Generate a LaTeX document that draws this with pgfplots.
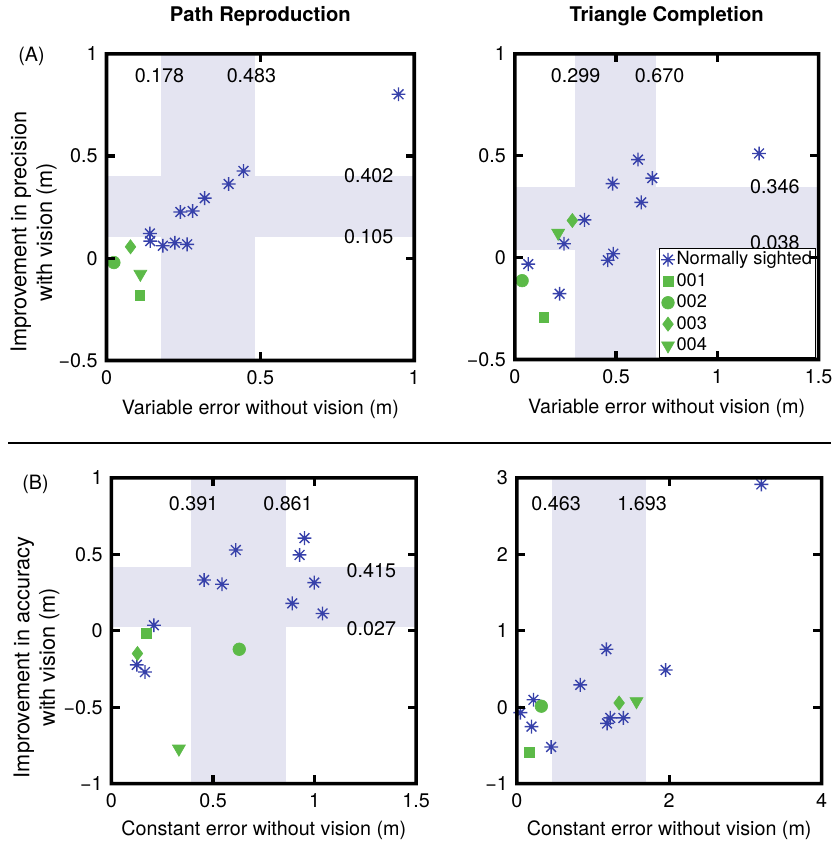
\documentclass[border=0pt]{standalone}
\usepackage{fontspec}
\setmainfont{TeX Gyre Heros}
\usepackage{pgfplots}
\pgfplotsset{compat=1.18}
\usetikzlibrary{calc}

\definecolor{sblue}{RGB}{55,65,170}
\definecolor{sgreen}{RGB}{92,186,72}
\definecolor{band}{RGB}{228,228,241}

% matlab-like '*' marker: a plus and a cross on top of each other
\pgfdeclareplotmark{mstar}{%
  \pgfpathmoveto{\pgfqpoint{-\pgfplotmarksize}{0pt}}%
  \pgfpathlineto{\pgfqpoint{\pgfplotmarksize}{0pt}}%
  \pgfpathmoveto{\pgfqpoint{0pt}{-\pgfplotmarksize}}%
  \pgfpathlineto{\pgfqpoint{0pt}{\pgfplotmarksize}}%
  \pgfpathmoveto{\pgfqpoint{-0.707\pgfplotmarksize}{-0.707\pgfplotmarksize}}%
  \pgfpathlineto{\pgfqpoint{0.707\pgfplotmarksize}{0.707\pgfplotmarksize}}%
  \pgfpathmoveto{\pgfqpoint{-0.707\pgfplotmarksize}{0.707\pgfplotmarksize}}%
  \pgfpathlineto{\pgfqpoint{0.707\pgfplotmarksize}{-0.707\pgfplotmarksize}}%
  \pgfusepathqstroke}

\tikzset{lbl/.style={font=\fontsize{10}{13}\selectfont}}

% thick matlab frame and inward ticks, drawn from the axis anchors
\newcommand{\mframe}[1]{%
  \fill[black, even odd rule]
    ([shift={(-0.9pt,-0.9pt)}]#1.south west) rectangle ([shift={(0.9pt,0.9pt)}]#1.north east)
    ([shift={(0.9pt,0.9pt)}]#1.south west) rectangle ([shift={(-0.9pt,-0.9pt)}]#1.north east);}
\newcommand{\mxtick}[2]{%
  \fill[black] ($(#1.south west)!#2!(#1.south east)$) ++(-0.85pt,0pt) rectangle ++(1.7pt,4.3pt);
  \fill[black] ($(#1.north west)!#2!(#1.north east)$) ++(-0.85pt,0pt) rectangle ++(1.7pt,-4.3pt);}
\newcommand{\mytick}[2]{%
  \fill[black] ($(#1.south west)!#2!(#1.north west)$) ++(0pt,-0.85pt) rectangle ++(4.3pt,1.7pt);
  \fill[black] ($(#1.south east)!#2!(#1.north east)$) ++(0pt,-0.85pt) rectangle ++(-4.3pt,1.7pt);}

\pgfplotsset{
  panel/.style={
    scale only axis, anchor=north west,
    font=\fontsize{10}{13}\selectfont,
    major tick length=0pt,
    xticklabel shift=1.5pt, yticklabel shift=1pt,
    title style={at={(0.5,1)}, anchor=center, yshift=13pt, font=\fontsize{10.25}{13}\selectfont\bfseries},
    xlabel style={at={(axis description cs:0.5,0)}, anchor=center},
    ylabel style={anchor=center, align=center, font=\fontsize{11}{13}\selectfont},
    clip=false,
  },
  nstar/.style={only marks, mark=mstar, mark size=3.5pt, color=sblue, mark options={line width=0.7pt}},
  g1/.style={only marks, mark=square*, mark size=2.5pt, color=sgreen, mark options={line width=0.3pt}},
  g2/.style={only marks, mark=*, mark size=3.2pt, color=sgreen, mark options={line width=0.3pt}},
  g3/.style={only marks, mark=diamond*, mark size=3.6pt, color=sgreen, mark options={line width=0.3pt}},
  g4/.style={only marks, mark=triangle*, mark size=3.8pt, color=sgreen, mark options={rotate=180, line width=0.3pt}},
  bandfill/.style={fill=band, draw=none, forget plot},
}

\begin{document}
\begin{tikzpicture}
\path (0,0) rectangle (421.5pt,-423pt);

% (A) Path Reproduction
\begin{axis}[panel, name=a1, at={(54pt,-21.5pt)}, width=156pt, height=155.5pt,
  title={Path Reproduction},
  xmin=0, xmax=1, ymin=-0.5, ymax=1,
  xtick={0,0.5,1}, xticklabels={0,0.5,1},
  ytick={-0.5,0,0.5,1}, yticklabels={−0.5,0,0.5,1},
  xlabel={Variable error without vision (m)},
  xlabel style={yshift=-25pt},
  ylabel={Improvement in precision\\with vision (m)},
  ylabel style={at={(axis description cs:-0.237,0.418)}},
]
\addplot[bandfill] coordinates {(0.178,-0.5) (0.483,-0.5) (0.483,1) (0.178,1)} -- cycle;
\addplot[bandfill] coordinates {(0,0.105) (1,0.105) (1,0.402) (0,0.402)} -- cycle;
\addplot[nstar] coordinates {
  (0.949,0.802) (0.445,0.427) (0.397,0.363) (0.319,0.294) (0.280,0.231)
  (0.240,0.226) (0.141,0.121) (0.142,0.084) (0.183,0.061) (0.222,0.076) (0.262,0.068)
};
\addplot[g1] coordinates {(0.108,-0.181)};
\addplot[g2] coordinates {(0.024,-0.021)};
\addplot[g3] coordinates {(0.078,0.056)};
\addplot[g4] coordinates {(0.110,-0.077)};
\node[lbl] at (axis cs:0.172,0.895) {0.178};
\node[lbl] at (axis cs:0.471,0.895) {0.483};
\node[lbl, anchor=east] at (axis cs:0.955,0.402) {0.402};
\node[lbl, anchor=east] at (axis cs:0.955,0.105) {0.105};
\end{axis}

% (A) Triangle Completion
\begin{axis}[panel, name=a2, at={(261pt,-21.5pt)}, width=154pt, height=155pt,
  title={Triangle Completion},
  xmin=0, xmax=1.5, ymin=-0.5, ymax=1,
  xtick={0,0.5,1,1.5}, xticklabels={0,0.5,1,1.5},
  ytick={-0.5,0,0.5,1}, yticklabels={−0.5,0,0.5,1},
  xlabel={Variable error without vision (m)},
  xlabel style={yshift=-25pt},
  legend style={at={(axis description cs:1,0)}, anchor=south east,
    xshift=-1.3pt, yshift=1pt, draw=black, line width=0.5pt,
    inner sep=1pt, row sep=1.2pt, font=\fontsize{9.25}{11}\selectfont,
    nodes={inner sep=0.8pt}},
  legend cell align=left,
  legend image code/.code={\draw[#1] plot coordinates {(0.16cm,0cm)};},
]
\addplot[bandfill] coordinates {(0.295,-0.5) (0.695,-0.5) (0.695,1) (0.295,1)} -- cycle;
\addplot[bandfill] coordinates {(0,0.038) (1.5,0.038) (1.5,0.346) (0,0.346)} -- cycle;
\addplot[nstar] coordinates {
  (1.206,0.511) (0.608,0.481) (0.679,0.390) (0.483,0.363) (0.624,0.271)
  (0.344,0.185) (0.243,0.068) (0.486,0.019) (0.459,-0.013) (0.066,-0.032) (0.221,-0.177)
};
\addlegendentry{Normally sighted}
\addplot[g1] coordinates {(0.143,-0.294)};
\addlegendentry{001}
\addplot[g2] coordinates {(0.036,-0.113)};
\addlegendentry{002}
\addplot[g3] coordinates {(0.284,0.182)};
\addlegendentry{003}
\addplot[g4] coordinates {(0.214,0.121)};
\addlegendentry{004}
\node[lbl] at (axis cs:0.300,0.895) {0.299};
\node[lbl] at (axis cs:0.715,0.895) {0.670};
\node[lbl, anchor=east] at (axis cs:1.44,0.346) {0.346};
\node[lbl, anchor=east] at (axis cs:1.44,0.075) {0.038};
\end{axis}

% (B) Path Reproduction
\begin{axis}[panel, name=b1, at={(56.5pt,-236.5pt)}, width=154.5pt, height=155pt,
  xmin=0, xmax=1.5, ymin=-1, ymax=1,
  xtick={0,0.5,1,1.5}, xticklabels={0,0.5,1,1.5},
  ytick={-1,-0.5,0,0.5,1}, yticklabels={−1,−0.5,0,0.5,1},
  xlabel={Constant error without vision (m)},
  xlabel style={yshift=-23.5pt},
  ylabel={Improvement in accuracy\\with vision (m)},
  ylabel style={at={(axis description cs:-0.246,0.413)}},
]
\addplot[bandfill] coordinates {(0.391,-1) (0.861,-1) (0.861,1) (0.391,1)} -- cycle;
\addplot[bandfill] coordinates {(0,0.027) (1.5,0.027) (1.5,0.415) (0,0.415)} -- cycle;
\addplot[nstar] coordinates {
  (0.950,0.606) (0.612,0.528) (0.926,0.496) (0.456,0.332) (0.544,0.304) (0.998,0.315)
  (0.890,0.179) (1.039,0.113) (0.209,0.036) (0.125,-0.223) (0.165,-0.270)
};
\addplot[g1] coordinates {(0.173,-0.017)};
\addplot[g2] coordinates {(0.629,-0.121)};
\addplot[g3] coordinates {(0.128,-0.149)};
\addplot[g4] coordinates {(0.332,-0.772)};
\node[lbl] at (axis cs:0.404,0.834) {0.391};
\node[lbl] at (axis cs:0.869,0.834) {0.861};
\node[lbl, anchor=east] at (axis cs:1.435,0.394) {0.415};
\node[lbl, anchor=east] at (axis cs:1.435,0.011) {0.027};
\end{axis}

% (B) Triangle Completion
\begin{axis}[panel, name=b2, at={(262pt,-236.5pt)}, width=154.5pt, height=155pt,
  xmin=0, xmax=4, ymin=-1, ymax=3,
  xtick={0,2,4}, xticklabels={0,2,4},
  ytick={-1,0,1,2,3}, yticklabels={−1,0,1,2,3},
  xlabel={Constant error without vision (m)},
  xlabel style={yshift=-23.5pt},
]
\addplot[bandfill] coordinates {(0.463,-1) (1.693,-1) (1.693,3) (0.463,3)} -- cycle;
\addplot[nstar] coordinates {
  (3.21,2.915) (1.176,0.758) (1.953,0.487) (0.833,0.292) (0.219,0.097) (0.047,-0.072)
  (0.193,-0.254) (0.451,-0.521) (1.227,-0.140) (1.185,-0.212) (1.399,-0.140)
};
\addplot[g1] coordinates {(0.163,-0.589)};
\addplot[g2] coordinates {(0.322,0.013)};
\addplot[g3] coordinates {(1.343,0.055)};
\addplot[g4] coordinates {(1.571,0.076)};
\node[lbl] at (axis cs:0.515,2.657) {0.463};
\node[lbl] at (axis cs:1.644,2.657) {1.693};
\end{axis}

% frames and ticks
\mframe{a1} \mxtick{a1}{0.5} \mytick{a1}{0.3333} \mytick{a1}{0.6667}
\mframe{a2} \mxtick{a2}{0.3333} \mxtick{a2}{0.6667} \mytick{a2}{0.3333} \mytick{a2}{0.6667}
\mframe{b1} \mxtick{b1}{0.3333} \mxtick{b1}{0.6667} \mytick{b1}{0.25} \mytick{b1}{0.5} \mytick{b1}{0.75}
\mframe{b2} \mxtick{b2}{0.5} \mytick{b2}{0.25} \mytick{b2}{0.5} \mytick{b2}{0.75}

\node[lbl] at (16pt,-23pt) {(A)};
\node[lbl] at (18pt,-240pt) {(B)};
\fill[black] (4pt,-218.5pt) rectangle (421.5pt,-219.5pt);
\end{tikzpicture}
\end{document}
